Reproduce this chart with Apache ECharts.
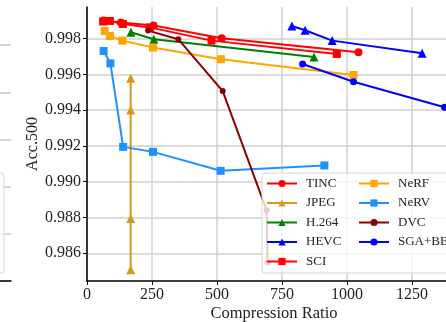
<!DOCTYPE html>
<html>
<head>
<meta charset="utf-8">
<script src="https://cdn.jsdelivr.net/npm/echarts@6/dist/echarts.min.js"></script>
<style>
  html, body { margin: 0; padding: 0; background: #fff; }
  #chart { width: 446px; height: 322px; }
</style>
</head>
<body>
<div id="chart"></div>
<script>
// values
const tincX = [64, 130, 256, 518, 1044];
const tincY = [0.99902, 0.99891, 0.99873, 0.99802, 0.99724];
const jpegX = [168, 168, 168, 168];
const jpegY = [0.99578, 0.99401, 0.98794, 0.98508];
const h264X = [169, 257, 873];
const h264Y = [0.99836, 0.99797, 0.99697];
const hevcX = [788, 839, 943, 1289];
const hevcY = [0.99871, 0.99847, 0.99789, 0.99718];
const sciX = [62, 88, 138, 242, 479, 961];
const sciY = [0.99896, 0.99899, 0.99882, 0.99863, 0.99789, 0.99714];
const nerfX = [68, 88, 136, 254, 515, 1025];
const nerfY = [0.99843, 0.99815, 0.99789, 0.9975, 0.99685, 0.99597];
const nervX = [64, 90, 139, 254, 514, 913];
const nervY = [0.99731, 0.99662, 0.99195, 0.99167, 0.99061, 0.99091];
const dvcX = [235, 351, 522, 691, 694];
const dvcY = [0.99845, 0.99797, 0.99507, 0.9884, 0.98549];
const sgaX = [829, 1025, 1375];
const sgaY = [0.99658, 0.99559, 0.99416];

const yTicks = [0.986, 0.988, 0.99, 0.992, 0.994, 0.996, 0.998];
const xTicks = [0, 250, 500, 750, 1000, 1250];

const FONT = "'Liberation Serif', 'DejaVu Serif', serif";

const zip = (xs, ys) => xs.map((x, i) => [x, ys[i]]);

function line(name, xs, ys, color, symbol, size) {
  return {
    name,
    type: 'line',
    data: zip(xs, ys),
    symbol,
    symbolSize: size,
    showAllSymbol: true,
    lineStyle: { color, width: 2 },
    itemStyle: { color },
    emphasis: { disabled: true },
    animation: false,
    clip: false
  };
}

const series = [
  line('TINC', tincX, tincY, '#ff0000', 'circle', 8),
  line('JPEG', jpegX, jpegY, '#d09a1c', 'triangle', 9),
  line('H.264', h264X, h264Y, '#008000', 'triangle', 9),
  line('HEVC', hevcX, hevcY, '#0000ff', 'triangle', 9),
  line('SCI', sciX, sciY, '#ff0000', 'rect', 8),
  line('NeRF', nerfX, nerfY, '#ffa500', 'rect', 8),
  line('NeRV', nervX, nervY, '#1e90ff', 'rect', 8),
  line('DVC', dvcX, dvcY, '#8b0000', 'circle', 6),
  line('SGA+BE', sgaX, sgaY, '#0000ff', 'circle', 7)
];
const names = series.map(s => s.name);

const chart = echarts.init(document.getElementById('chart'), null, { renderer: 'canvas' });

const legendBase = {
  orient: 'vertical',
  itemWidth: 30,
  itemHeight: 9,
  itemGap: 6.5,
  selectedMode: false,
  textStyle: { fontFamily: FONT, fontSize: 13, color: '#222', lineHeight: 13, padding: [0, 0, 0, 4] }
};

chart.setOption({
  backgroundColor: '#fff',
  animation: false,
  textStyle: { fontFamily: FONT },
  grid: [
    { left: 87, right: -5, top: 7, bottom: 41, outerBoundsMode: 'none' },
    // edge of the neighbouring panel, cut off at the left
    { left: -300, width: 311, top: -2, bottom: 41, outerBoundsMode: 'none' }
  ],
  xAxis: [
    {
      type: 'value',
      min: 0,
      max: 1400,
      name: 'Compression Ratio',
      nameLocation: 'middle',
      nameGap: 24,
      nameMoveOverlap: false,
      nameTextStyle: { fontFamily: FONT, fontSize: 16.5, color: '#222', padding: [0, 0, 0, 10] },
      axisLine: { show: true, lineStyle: { color: '#000', width: 1.5 } },
      axisTick: { show: true, length: 4, customValues: xTicks, lineStyle: { color: '#000' } },
      axisLabel: {
        customValues: xTicks,
        fontFamily: FONT,
        fontSize: 16,
        color: '#222',
        margin: 6,
        formatter: v => String(v)
      },
      splitLine: { show: true, lineStyle: { color: '#d0d0d0', width: 1.5 } }
    },
    {
      gridIndex: 1,
      type: 'value',
      min: 0,
      max: 1,
      axisLine: { show: true, lineStyle: { color: '#000', width: 1.5 } },
      axisTick: { show: false },
      axisLabel: { show: false },
      splitLine: { show: false }
    }
  ],
  yAxis: [
    {
      type: 'value',
      min: 0.98445,
      max: 0.99977,
      name: 'Acc.500',
      nameLocation: 'middle',
      nameRotate: 90,
      nameGap: 46,
      nameMoveOverlap: false,
      nameTextStyle: { fontFamily: FONT, fontSize: 16, color: '#222' },
      axisLine: { show: true, lineStyle: { color: '#000', width: 1.5 } },
      axisTick: { show: true, length: 4, customValues: yTicks, lineStyle: { color: '#000' } },
      axisLabel: {
        customValues: yTicks,
        fontFamily: FONT,
        fontSize: 16,
        color: '#222',
        margin: 6,
        formatter: v => v.toFixed(3)
      },
      splitLine: { show: true, lineStyle: { color: '#d0d0d0', width: 1.5 } }
    },
    {
      gridIndex: 1,
      type: 'value',
      min: 0,
      max: 6,
      interval: 1,
      axisLine: { show: false },
      axisTick: { show: false },
      axisLabel: { show: false },
      splitLine: { show: true, lineStyle: { color: '#c8c8c8', width: 1.5 } }
    }
  ],
  legend: [
    Object.assign({}, legendBase, {
      left: 262,
      top: 173,
      padding: [4, 140, 5, 4],
      backgroundColor: 'rgba(255,255,255,0.8)',
      borderColor: '#d6d6d6',
      borderWidth: 1,
      borderRadius: 3,
      data: names.slice(0, 5)
    }),
    Object.assign({}, legendBase, { left: 358, top: 177, padding: 0, data: names.slice(5) })
  ],
  graphic: [
    {
      type: 'rect',
      z: 3,
      shape: { x: -100, y: 173, width: 104, height: 100, r: 3 },
      style: { fill: 'rgba(255,255,255,0.8)', stroke: '#d6d6d6', lineWidth: 1 }
    }
  ],
  series
});
</script>
</body>
</html>
